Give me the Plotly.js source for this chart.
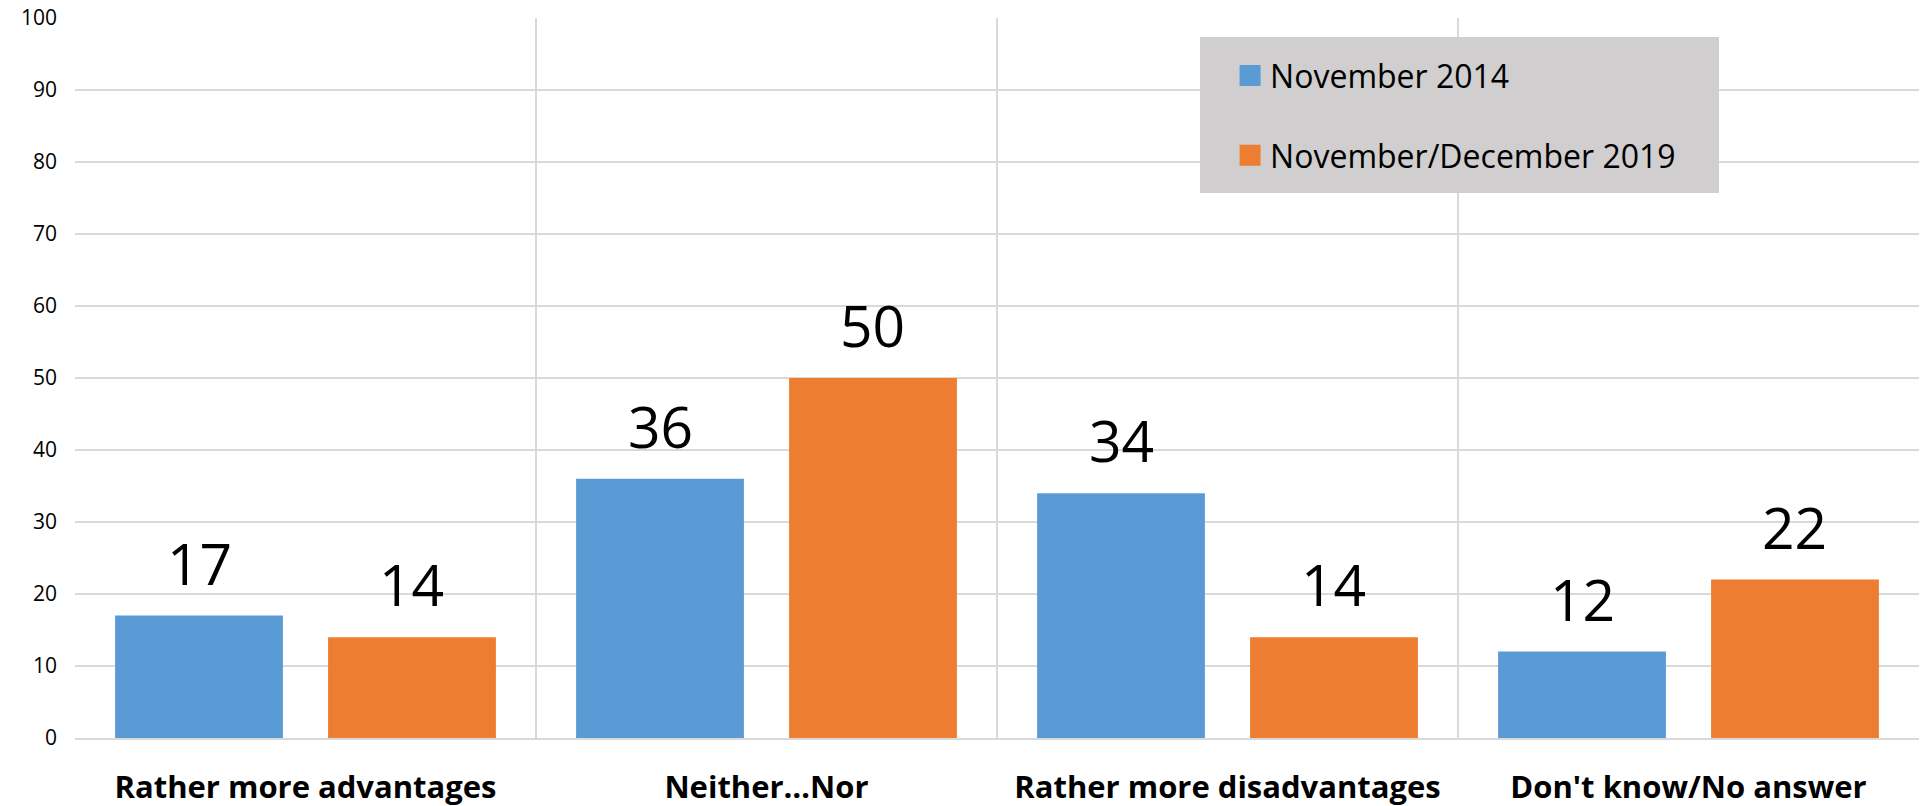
<!DOCTYPE html>
<html>
<head>
<meta charset="utf-8">
<script src="https://cdn.plot.ly/plotly-3.0.1.min.js"></script>
<style>
  html, body { margin: 0; padding: 0; background: #ffffff; }
  #chart { width: 1921px; height: 806px; }
</style>
</head>
<body>
<div id="chart"></div>
<script>
// ---- Data ----
const categories = ['Rather more advantages', 'Neither…Nor', 'Rather more disadvantages', "Don't know/No answer"];
const seriesNames = ['November 2014', 'November/December 2019'];
const nov2014 = [17, 36, 34, 12];
const novDec2019 = [14, 50, 14, 22];
const yTickVals = [0, 10, 20, 30, 40, 50, 60, 70, 80, 90, 100];

// ---- Styles ----
const FONT = '"Open Sans", "Noto Sans", sans-serif';
const colors = ['#5B9BD5', '#ED7D31'];
const gridColor = '#D9D9D9';

const seriesValues = [nov2014, novDec2019];

const traces = seriesValues.map((vals, i) => ({
  type: 'bar',
  name: seriesNames[i],
  x: categories,
  y: vals,
  marker: { color: colors[i] },
  legendgroup: 'g' + i,
  hoverinfo: 'x+y+name'
}));

// value labels positioned from the data through the axes
const barShift = 106;
const annotations = [];
seriesValues.forEach((vals, i) => {
  vals.forEach((v, j) => {
    annotations.push({
      x: categories[j], y: v, xref: 'x', yref: 'y',
      text: String(v), showarrow: false,
      xshift: i === 0 ? -barShift : barShift,
      yanchor: 'bottom', yshift: 12,
      font: { family: FONT, size: 57, color: '#000000' }
    });
  });
});

const layout = {
  width: 1921,
  height: 806,
  margin: { l: 75, r: 2, t: 18, b: 68, pad: 0 },
  paper_bgcolor: '#ffffff',
  plot_bgcolor: '#ffffff',
  font: { family: FONT, color: '#000000' },
  barmode: 'group',
  bargap: 0.076,
  bargroupgap: 0.212,
  showlegend: true,
  legend: {
    x: 0.6264, xanchor: 'left',
    y: 0.958, yanchor: 'top',
    bgcolor: 'rgba(0,0,0,0)',
    borderwidth: 0,
    font: { family: FONT, size: 32, color: '#000000' },
    traceorder: 'grouped',
    tracegroupgap: 35,
    itemclick: false, itemdoubleclick: false
  },
  shapes: [{
    type: 'rect', xref: 'paper', yref: 'paper',
    x0: (1200 - 75) / 1844, x1: (1719 - 75) / 1844,
    y0: (738 - 193) / 720, y1: (738 - 37) / 720,
    fillcolor: '#D0CECE', line: { width: 0 }, layer: 'above'
  }],
  xaxis: {
    type: 'category',
    tickson: 'boundaries',
    showgrid: true,
    gridcolor: gridColor,
    gridwidth: 1.5,
    showline: true,
    linecolor: gridColor,
    linewidth: 1.5,
    ticks: '',
    ticklabelstandoff: 21,
    tickfont: { family: FONT, size: 31, color: '#000000', weight: 'bold' },
    fixedrange: true
  },
  yaxis: {
    range: [0, 100],
    tickvals: yTickVals,
    ticktext: yTickVals.map(String),
    showgrid: true,
    gridcolor: gridColor,
    gridwidth: 1.5,
    zeroline: false,
    showline: false,
    ticks: '',
    ticklabelstandoff: 17,
    tickfont: { family: FONT, size: 21, color: '#000000' },
    fixedrange: true
  },
  annotations: annotations
};

Plotly.newPlot('chart', traces, layout, { displayModeBar: false }).then(() => {
  document.querySelectorAll('.legend .legendpoints path').forEach(p => {
    p.setAttribute('d', 'M10.5,10.5H-10.5V-10.5H10.5Z');
  });
});
</script>
</body>
</html>
